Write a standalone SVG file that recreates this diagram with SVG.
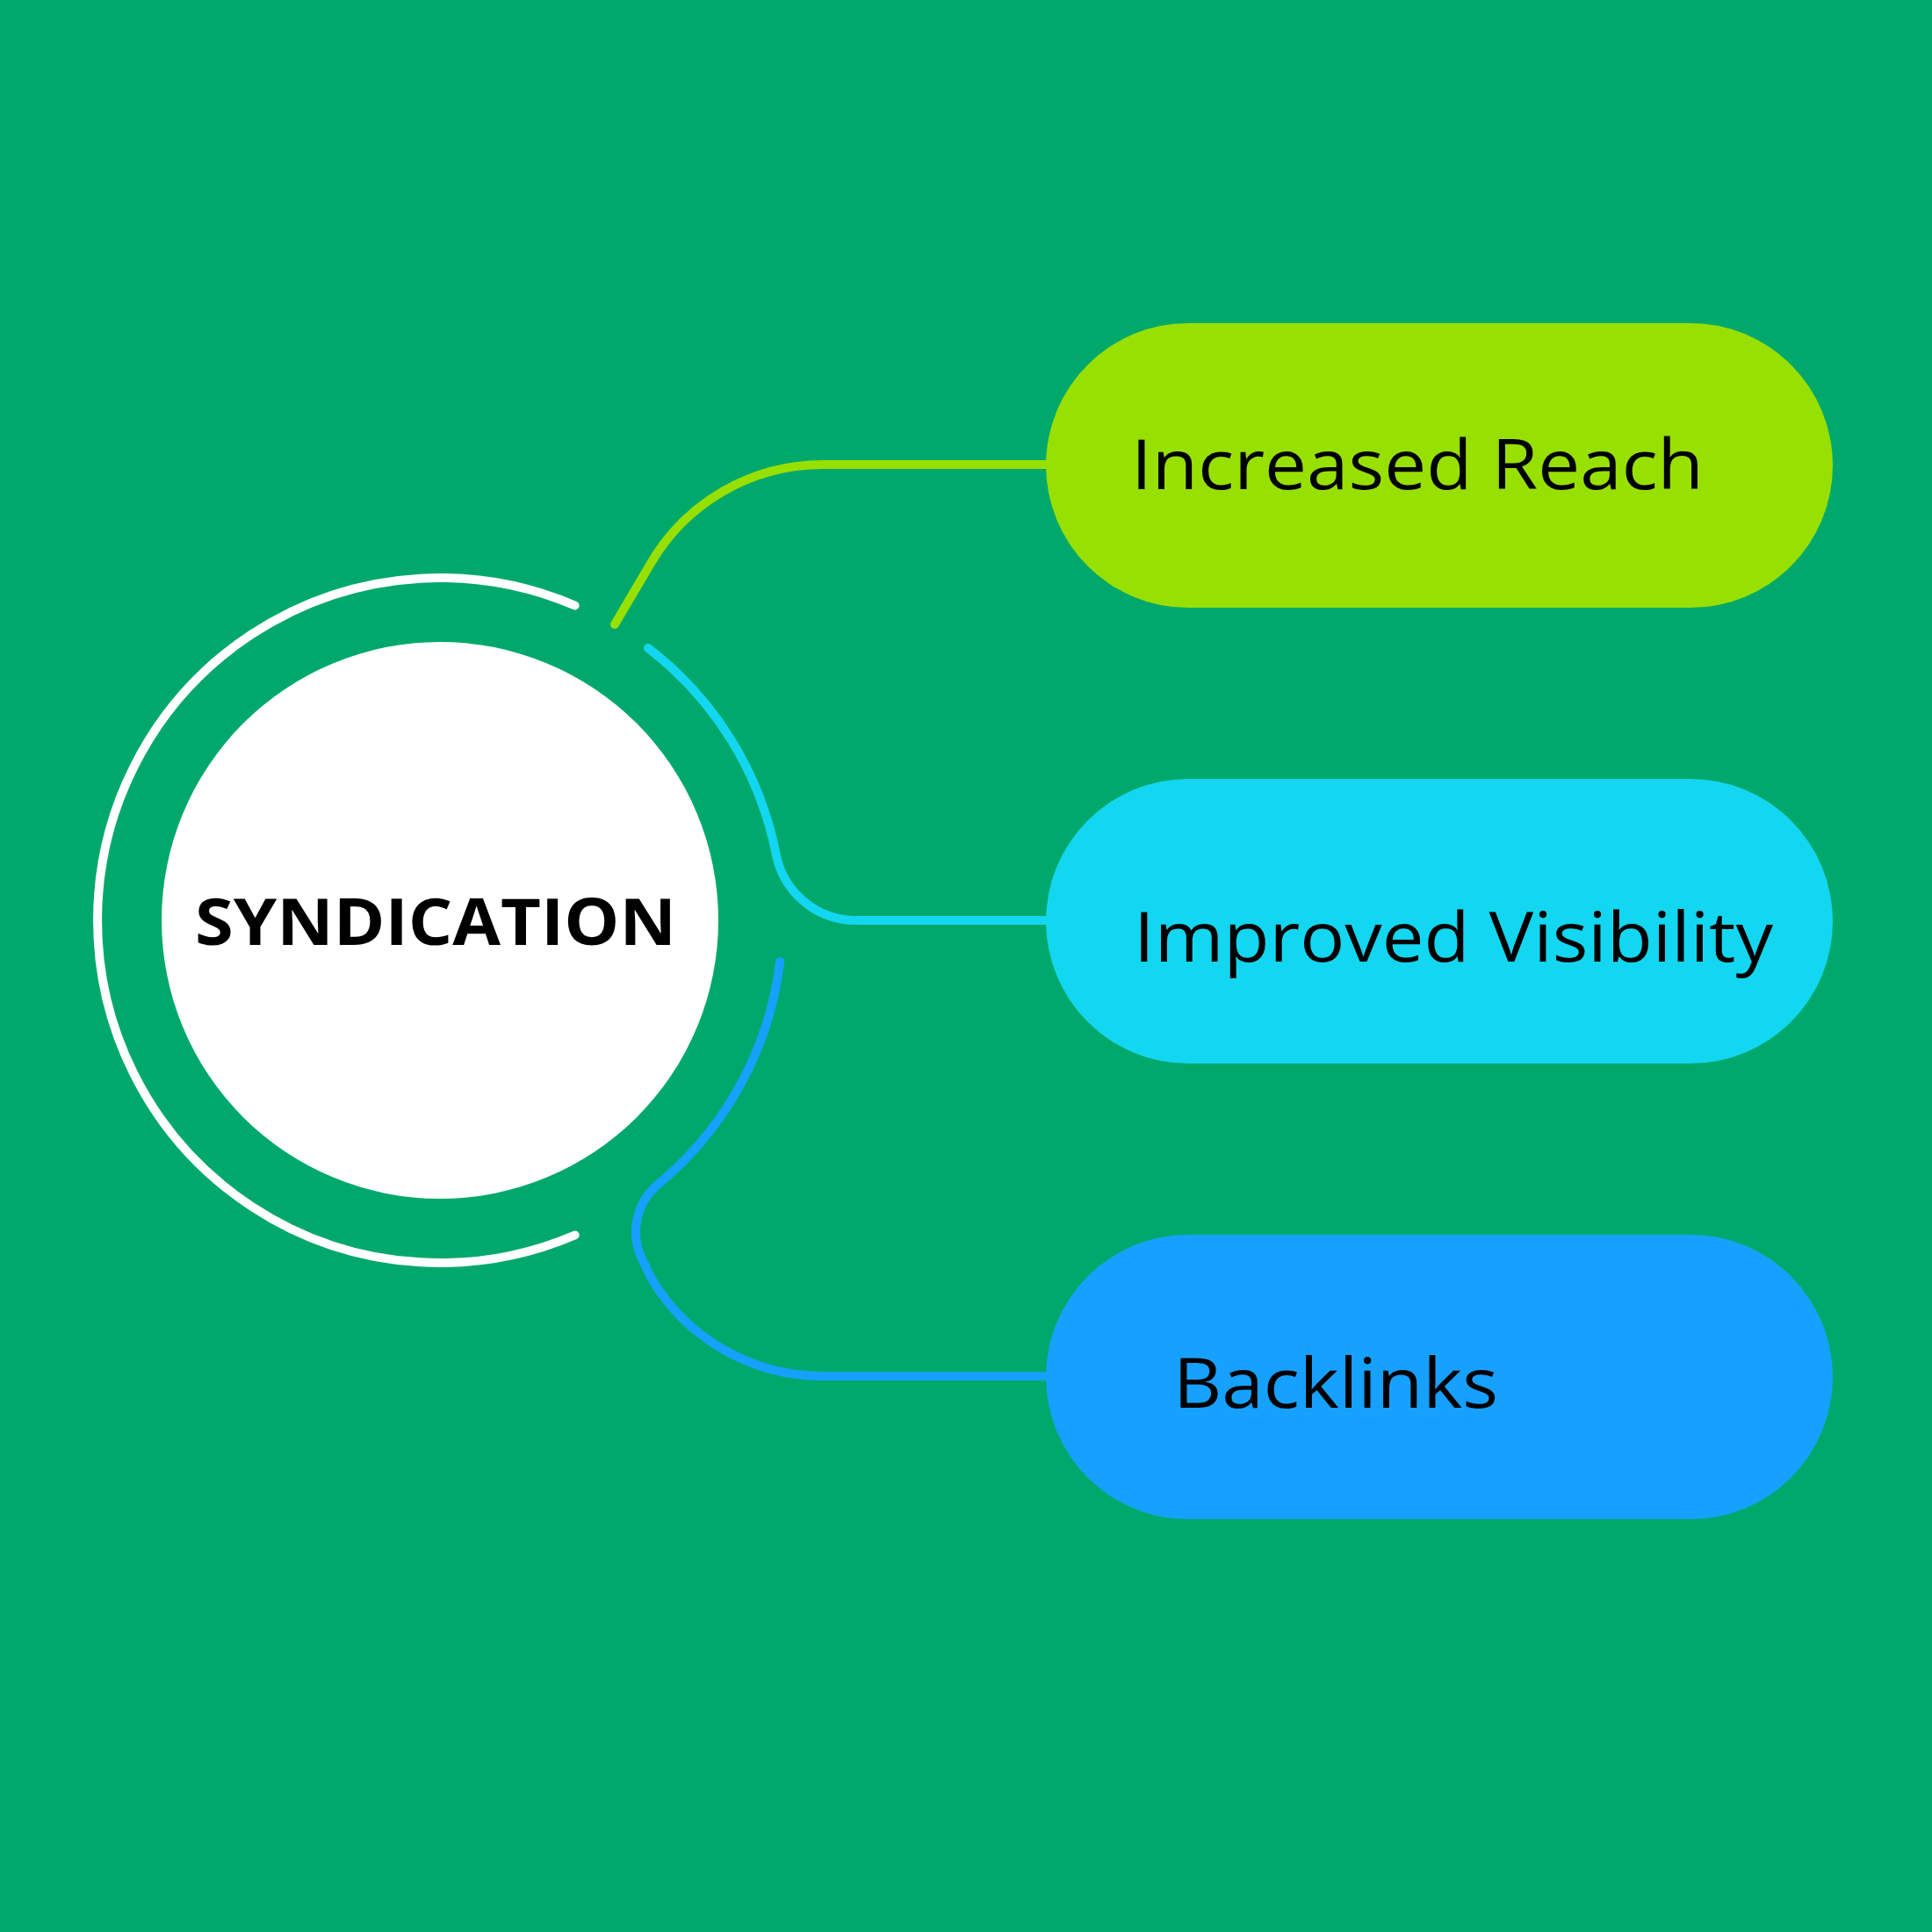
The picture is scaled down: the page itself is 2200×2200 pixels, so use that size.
<svg xmlns="http://www.w3.org/2000/svg" width="2200" height="2200" viewBox="0 0 2200 2200">
  <style>
    .conn { fill: none; stroke-width: 10; stroke-linecap: round; stroke-linejoin: round; }
    .label { font-family: "Open Sans", "Liberation Sans", sans-serif; font-size: 78px; fill: #000000; }
    .title { font-family: "Open Sans", "Liberation Sans", sans-serif; font-size: 74px; font-weight: 700; fill: #000000; }
  </style>
  <rect x="0" y="0" width="2200" height="2200" fill="#00A96B"/>

  <g id="connectors">
    <path class="conn" stroke="#98E002" d="M 700 711 L 741 641.5 A 227 227 0 0 1 937 529 L 1200 529"/>
    <path class="conn" stroke="#13D6F0" d="M 738 738 A 390 390 0 0 1 883.7 972.9 A 93 93 0 0 0 975 1048 L 1200 1048"/>
    <path class="conn" stroke="#16A0FF" d="M 888.2 1094.9 A 390 390 0 0 1 749.7 1348.3 A 71 71 0 0 0 733.7 1438.8 L 741 1454.5 A 227 227 0 0 0 937 1567 L 1200 1567"/>
  </g>

  <g id="center">
    <path d="M 654.6 689.5 A 390 390 0 1 0 654.6 1406.5" fill="none" stroke="#FFFFFF" stroke-width="10" stroke-linecap="round"/>
    <circle cx="501" cy="1048" r="317" fill="#FFFFFF"/>
    <text class="title" x="222" y="1076" textLength="548" lengthAdjust="spacingAndGlyphs">SYNDICATION</text>
  </g>

  <g id="node-increased-reach">
    <rect x="1191" y="368" width="896" height="324" rx="162" ry="162" fill="#98E002"/>
    <text class="label" x="1288" y="557" textLength="652" lengthAdjust="spacingAndGlyphs">Increased Reach</text>
  </g>

  <g id="node-improved-visibility">
    <rect x="1191" y="887" width="896" height="324" rx="162" ry="162" fill="#13D7F1"/>
    <text class="label" x="1291" y="1095" textLength="728" lengthAdjust="spacingAndGlyphs">Improved Visibility</text>
  </g>

  <g id="node-backlinks">
    <rect x="1191" y="1406" width="896" height="324" rx="162" ry="162" fill="#16A1FF"/>
    <text class="label" x="1336" y="1603" textLength="370" lengthAdjust="spacingAndGlyphs">Backlinks</text>
  </g>
</svg>
